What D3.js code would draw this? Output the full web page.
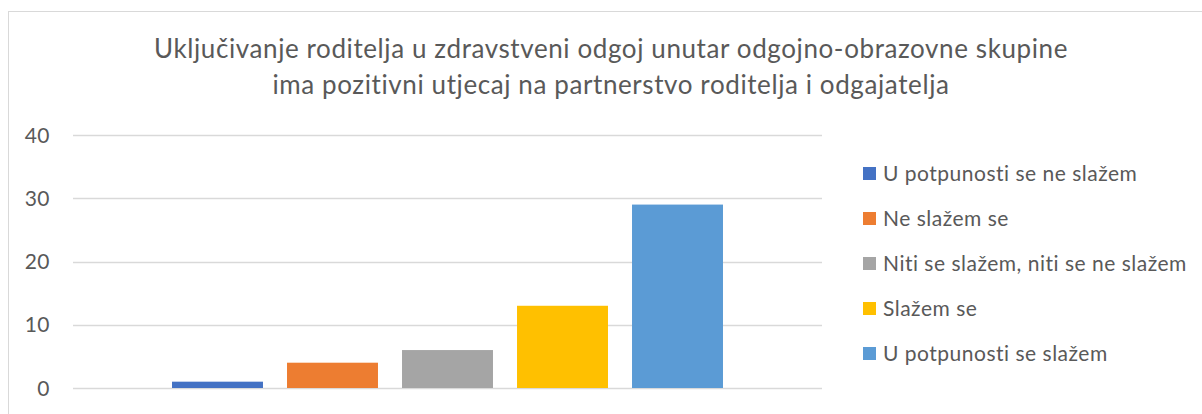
<!DOCTYPE html>
<html>
<head>
<meta charset="utf-8">
<script src="https://cdn.jsdelivr.net/npm/d3@7"></script>
<style>
  body { margin: 0; background: #fff; }
  svg { display: block; font-family: Lato, "Open Sans", sans-serif; }
</style>
</head>
<body>
<div class="chart"></div>
<script>
// data
var titleLines = ['Uključivanje roditelja u zdravstveni odgoj unutar odgojno-obrazovne skupine',
  'ima pozitivni utjecaj na partnerstvo roditelja i odgajatelja'];
var seriesNames = ['U potpunosti se ne slažem', 'Ne slažem se', 'Niti se slažem, niti se ne slažem',
  'Slažem se', 'U potpunosti se slažem'];
var seriesValues = [1, 4, 6, 13, 29];
var seriesColors = ['#4472c4', '#ed7d31', '#a5a5a5', '#ffc000', '#5b9bd5'];
var yTicks = [0, 10, 20, 30, 40];

var width = 1202,
  height = 414,
  plot = { left: 73, right: 822, top: 135, bottom: 388 };

var svg = d3.select('.chart')
  .append('svg')
  .attr('width', width)
  .attr('height', height);

// chart frame
svg.append('rect')
  .attr('x', 8.5)
  .attr('y', 11.5)
  .attr('width', 1300)
  .attr('height', 500)
  .attr('fill', 'none')
  .attr('stroke', '#d9d9d9');

svg.append('text')
  .attr('text-anchor', 'middle')
  .attr('fill', '#595959')
  .style('font-size', '26px')
  .style('letter-spacing', '0.6px')
  .selectAll('tspan')
  .data(titleLines)
  .enter()
  .append('tspan')
  .attr('x', 611)
  .attr('y', (d, i) => 58 + i * 36)
  .text(d => d);

var y = d3.scaleLinear()
  .domain([0, 40])
  .range([plot.bottom, plot.top]);

var x = d3.scaleBand()
  .domain(seriesNames)
  .range([plot.left, plot.right])
  .paddingInner(0.209)
  .paddingOuter(0.861);

var grid = svg.append('g')
  .attr('class', 'grid')
  .selectAll('line')
  .data(yTicks)
  .enter()
  .append('line')
  .attr('x1', plot.left)
  .attr('x2', plot.right)
  .attr('y1', d => Math.round(y(d)) + 0.5)
  .attr('y2', d => Math.round(y(d)) + 0.5)
  .attr('stroke', '#d9d9d9')
  .attr('stroke-width', 1.5);

svg.append('g')
  .selectAll('text')
  .data(yTicks)
  .enter()
  .append('text')
  .attr('x', 50)
  .attr('y', d => y(d))
  .attr('dy', '0.36em')
  .attr('text-anchor', 'end')
  .attr('fill', '#595959')
  .style('font-size', '21px')
  .style('letter-spacing', '0.5px')
  .text(d => d);

svg.append('g')
  .selectAll('rect')
  .data(seriesValues)
  .enter()
  .append('rect')
  .attr('x', (d, i) => x(seriesNames[i]))
  .attr('width', x.bandwidth())
  .attr('y', d => y(d))
  .attr('height', d => y(0) - y(d))
  .attr('fill', (d, i) => seriesColors[i]);

var legend = svg.append('g')
  .selectAll('g')
  .data(seriesNames)
  .enter()
  .append('g')
  .attr('transform', (d, i) => 'translate(863,' + (173 + i * 45) + ')');

legend.append('rect')
  .attr('x', 0)
  .attr('y', -6)
  .attr('width', 13)
  .attr('height', 13)
  .attr('fill', (d, i) => seriesColors[i]);

legend.append('text')
  .attr('x', 20)
  .attr('dy', '0.36em')
  .attr('fill', '#595959')
  .style('font-size', '21px')
  .style('letter-spacing', '0.5px')
  .text(d => d);
</script>
</body>
</html>
